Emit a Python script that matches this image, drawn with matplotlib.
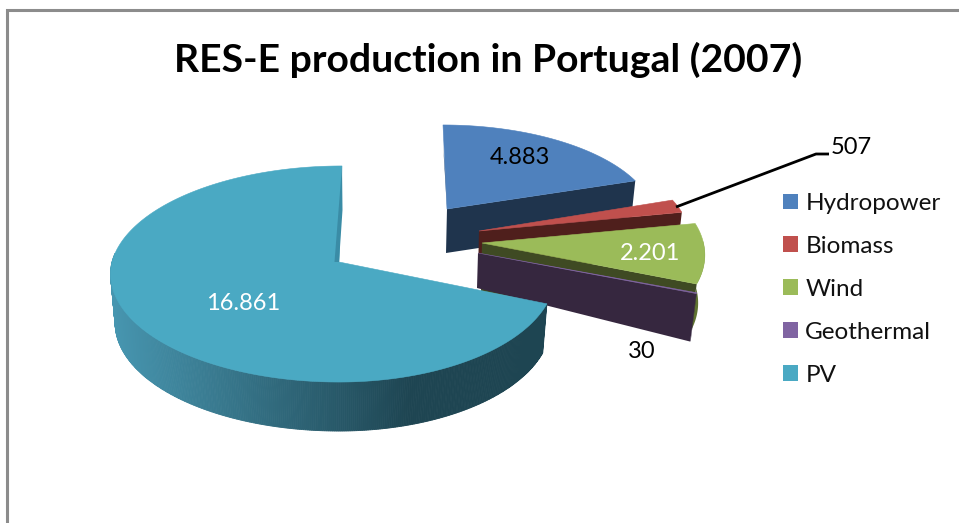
import numpy as np
import matplotlib
matplotlib.use("Agg")
import matplotlib.pyplot as plt
from matplotlib.patches import Patch, Polygon

plt.rcParams['font.family'] = ['Lato', 'DejaVu Sans']

TITLE = "RES-E production in Portugal (2007)"
categories = ["Hydropower", "Biomass", "Wind", "Geothermal", "PV"]
values = [4883, 507, 2201, 30, 16861]

top_colors = ["#4f81bd", "#c0504d", "#9bbb59", "#8064a2", "#4aa9c3"]
cut_colors = ["#1f344d", "#4f1f1c", "#3f4a23", "#36273f", "#1e4552"]
rim_colors = ["#1f344d", "#4f1f1c", "#5f7330", "#36273f", "#1e4552"]

# layout of each exploded slice: apex px, x/y scale, skew, depth at apex, depth at rim, bottom x factor
layout = [
    dict(ax=447, ay=209, sx=0.96, sy=0.875, skew=-4, da=44, dr=44, bx=0.975),
    dict(ax=479, ay=231, sx=0.98, sy=0.96, skew=0, da=44, dr=44, bx=0.975),
    dict(ax=482, ay=243, sx=1.03, sy=1.0, skew=0, da=48, dr=48, bx=0.97),
    dict(ax=478, ay=253, sx=1.05, sy=0.97, skew=0, da=35, dr=48, bx=0.972),
    dict(ax=339, ay=262, sx=1.0, sy=1.0, skew=3, da=49, dr=49, bx=0.98),
]
label_xy = [(520, 158), (851, 147), (650, 253), (642, 352), (243, 303)]
label_colors = ["black", "black", "white", "black", "white"]

K, Y, X_R, X_L = 1 / 9, 106.7, 215, 227

vals = np.array(values, dtype=float)
edges = np.concatenate([[0], np.cumsum(vals) / vals.sum() * 2 * np.pi])


def project(theta, lay):
    u, v = np.sin(theta), np.cos(theta)
    den = 1 + K * v
    xs = np.where(u >= 0, X_R, X_L)
    x = lay['ax'] + lay['sx'] * xs * u / den + lay['skew'] * (v > 0) * v
    y = lay['ay'] - lay['sy'] * Y * v / den
    return x, y


def bottom(x, y, lay, depth):
    return lay['ax'] + (x - lay['ax']) * lay['bx'], y + depth


fig = plt.figure(figsize=(9.59, 5.23), dpi=100, facecolor="white")
ax = fig.add_axes([0, 0, 1, 1])
ax.set_xlim(0, 959)
ax.set_ylim(523, 0)
ax.axis("off")

ax.plot([7, 7, 959], [523, 10, 10], color="#8c8c8c", lw=2.2, solid_joinstyle="miter")


def draw_slice(i, z):
    lay = layout[i]
    t0, t1 = edges[i], edges[i + 1]
    th = np.linspace(t0, t1, max(8, int((t1 - t0) * 120)))
    x, y = project(th, lay)
    # outer rim (only the part facing the viewer)
    vis = th[np.cos(th) < 0.03]
    if i == 4:
        vis = th[(th < np.radians(275))]
        xlight, xdark = 110, 410
        c0 = np.array(matplotlib.colors.to_rgb("#4796b0"))
        c1 = np.array(matplotlib.colors.to_rgb(cut_colors[4]))
        for a, b in zip(vis[:-1], vis[1:]):
            seg = np.linspace(a, b, 3)
            sx, sy = project(seg, lay)
            bx, by = bottom(sx, sy, lay, lay['dr'])
            f = np.clip((sx.mean() - xlight) / (xdark - xlight), 0, 1)
            col = c0 + (c1 - c0) * f
            ax.add_patch(Polygon(np.c_[np.r_[sx, bx[::-1]], np.r_[sy, by[::-1]]],
                                 fc=col, ec=col, lw=0.6, zorder=z))
    elif len(vis) > 1:
        sx, sy = project(vis, lay)
        bx, by = bottom(sx, sy, lay, lay['dr'])
        ax.add_patch(Polygon(np.c_[np.r_[sx, bx[::-1]], np.r_[sy, by[::-1]]],
                             fc=rim_colors[i], ec="none", zorder=z))
    # front cut face at the clockwise end of the slice
    if i != 4:
        ex, ey = x[-1], y[-1]
        bx, by = bottom(ex, ey, lay, lay['dr'])
        ax.add_patch(Polygon([(lay['ax'], lay['ay']), (ex, ey), (bx, by),
                              (lay['ax'] - 1, lay['ay'] + lay['da'])],
                             fc=cut_colors[i], ec="none", zorder=z + 0.1))
    # top face
    ax.add_patch(Polygon(np.c_[np.r_[lay['ax'], x], np.r_[lay['ay'], y]],
                         fc=top_colors[i], ec=top_colors[i], lw=0.4, zorder=z + 0.2))


for i, z in zip(range(5), [1, 2, 3, 4, 5]):
    draw_slice(i, z)

# thin visible parts of the back cut faces
h = layout[0]
ax.add_patch(Polygon([(h['ax'] - 4, h['ay'] - 66), (h['ax'], h['ay']),
                      (h['ax'] - 2, h['ay'] - 40)],
                     fc="#2f527c", ec="none", zorder=1.5))
p = layout[4]
ax.add_patch(Polygon([(p['ax'] + 3, p['ay'] - 96), (p['ax'] + 3.5, p['ay'] - 52),
                      (p['ax'], p['ay']), (p['ax'] - 4.5, p['ay'])],
                     fc="#3a8ca6", ec="none", zorder=5.5))

# data labels
for v, (lx, ly), c in zip(values, label_xy, label_colors):
    ax.text(lx, ly, f"{v:,}".replace(",", "."), color=c, fontsize=17,
            ha="center", va="center", zorder=10)

# leader line of the Biomass label
ax.plot([676, 816, 829], [207, 154, 154], color="black", lw=2.0, zorder=6,
        solid_capstyle="butt")

ax.text(488, 60, TITLE, fontsize=28.2, fontweight="bold", ha="center", va="center",
        color="black")

handles = [Patch(fc=c, ec="none", label=n) for c, n in zip(top_colors, categories)]
ax.legend(handles=handles, loc="upper left", bbox_to_anchor=(783 / 959, 1 - 193 / 523),
          bbox_transform=ax.transAxes, frameon=False, fontsize=17.5, labelspacing=0.9,
          handlelength=0.62, handleheight=0.62, handletextpad=0.3, borderpad=0,
          borderaxespad=0, labelcolor="#111111")

fig.savefig("out.png", dpi=100, facecolor="white")
